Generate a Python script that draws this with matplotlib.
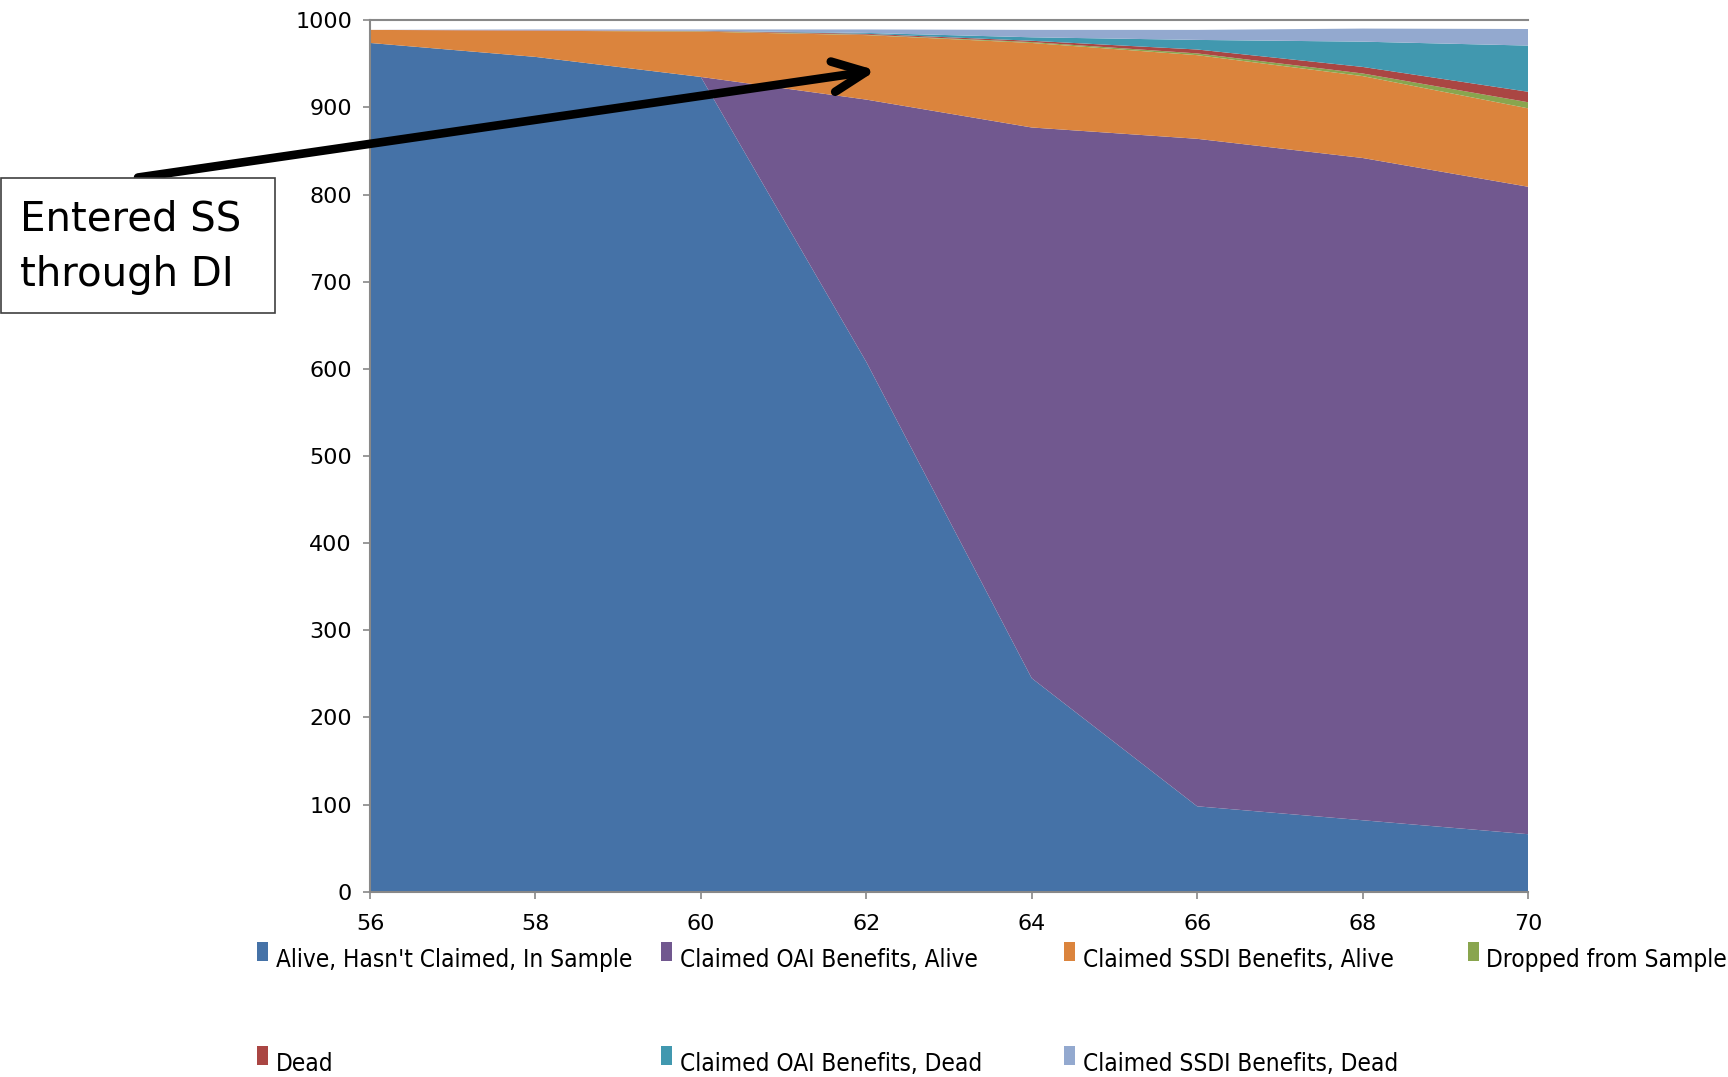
import matplotlib
matplotlib.use('Agg')
import matplotlib.pyplot as plt
from matplotlib import font_manager
from matplotlib.patches import Rectangle

# ages on the x axis and the count in each state (out of ~1000 people)
ages = [56, 58, 60, 62, 64, 66, 68, 70]
alive_unclaimed = [974, 958, 935, 608, 245, 98, 82, 66]
oai_alive = [0, 0, 0, 301, 632, 766, 760, 743]
ssdi_alive = [15, 30, 52, 74, 97, 96, 94, 90]
dropped = [0, 0, 0.5, 0.5, 1, 2, 3, 7]
dead = [0, 0.5, 0.5, 1, 1.5, 4.5, 7.5, 12]
oai_dead = [0, 0, 0, 1, 4, 11, 29, 53]
ssdi_dead = [0, 1, 1.5, 4, 8.5, 11.5, 15, 19]

labels = ["Alive, Hasn't Claimed, In Sample", "Claimed OAI Benefits, Alive",
          "Claimed SSDI Benefits, Alive", "Dropped from Sample", "Dead",
          "Claimed OAI Benefits, Dead", "Claimed SSDI Benefits, Dead"]
colors = ['#4572A7', '#71588F', '#DB843D', '#89A54E', '#AA4643', '#4198AF', '#93A9CF']

W, H = 1728, 1077


def fx(x):
    return x / W


def fy(y):
    return 1 - y / H


# pick a narrow face for the legend if one is installed
entries = font_manager.fontManager.ttflist
legend_font = dict(family=['Roboto', 'DejaVu Sans'])
if any(f.name == 'Liberation Sans Narrow' for f in entries):
    legend_font = dict(family=['Liberation Sans Narrow', 'DejaVu Sans'])
elif any(f.name == 'DejaVu Sans' and f.stretch == 'condensed' for f in entries):
    legend_font = dict(family=['DejaVu Sans'], stretch='condensed')

fig = plt.figure(figsize=(W / 100, H / 100), dpi=100)
ax = fig.add_axes([fx(370), fy(891.7), 1158 / W, 871.4 / H])

layers = [alive_unclaimed, oai_alive, ssdi_alive, dropped, dead, oai_dead, ssdi_dead]
ax.stackplot(ages, *layers, colors=colors, linewidth=0)

ax.set_xlim(56, 70)
ax.set_ylim(0, 1000)
ax.set_xticks(range(56, 71, 2))
ax.set_yticks(range(0, 1001, 100))

for side in ['left', 'bottom', 'top']:
    ax.spines[side].set_color('#888888')
    ax.spines[side].set_linewidth(1.5)
ax.spines['right'].set_visible(False)
ax.tick_params(direction='out', length=5, width=1.2, color='#888888',
               labelsize=16, pad=8)
ax.tick_params(axis='x', pad=11)

# legend laid out as in a spreadsheet chart: 4 per row
legend_texts = []
for i, (lab, col) in enumerate(zip(labels, colors)):
    row, c = divmod(i, 4)
    x0 = 257 + 403.5 * c
    y_top = 942 + 104 * row
    fig.add_artist(Rectangle((fx(x0), fy(y_top + 19)), 11 / W, 19 / H,
                             transform=fig.transFigure, facecolor=col,
                             edgecolor='none'))
    legend_texts.append(fig.text(fx(x0 + 19), fy(y_top + 25), lab, fontsize=20,
                                 ha='left', va='baseline', **legend_font))

# size the legend so the first entry is ~355 px wide
renderer = fig.canvas.get_renderer()
w0 = legend_texts[0].get_window_extent(renderer).width
for t in legend_texts:
    t.set_fontsize(20 * 355 / w0)

# callout box with arrow
fig.add_artist(Rectangle((fx(0.7), fy(313.3)), 274.6 / W, 135 / H,
                         transform=fig.transFigure, facecolor='white',
                         edgecolor='#404040', linewidth=1.2))
fig.text(fx(20), fy(200), 'Entered SS\nthrough DI', fontsize=29,
         ha='left', va='top', linespacing=1.48)

ax.annotate('', xy=(62.12, 942.5), xycoords='data',
            xytext=(fx(138), fy(177.5)), textcoords='figure fraction',
            arrowprops=dict(arrowstyle='->,head_length=2.4,head_width=1.1',
                            mutation_scale=10, lw=6.2, color='black',
                            shrinkA=0, shrinkB=0, capstyle='round',
                            joinstyle='round'),
            annotation_clip=False)

fig.savefig('out.png', dpi=100)
